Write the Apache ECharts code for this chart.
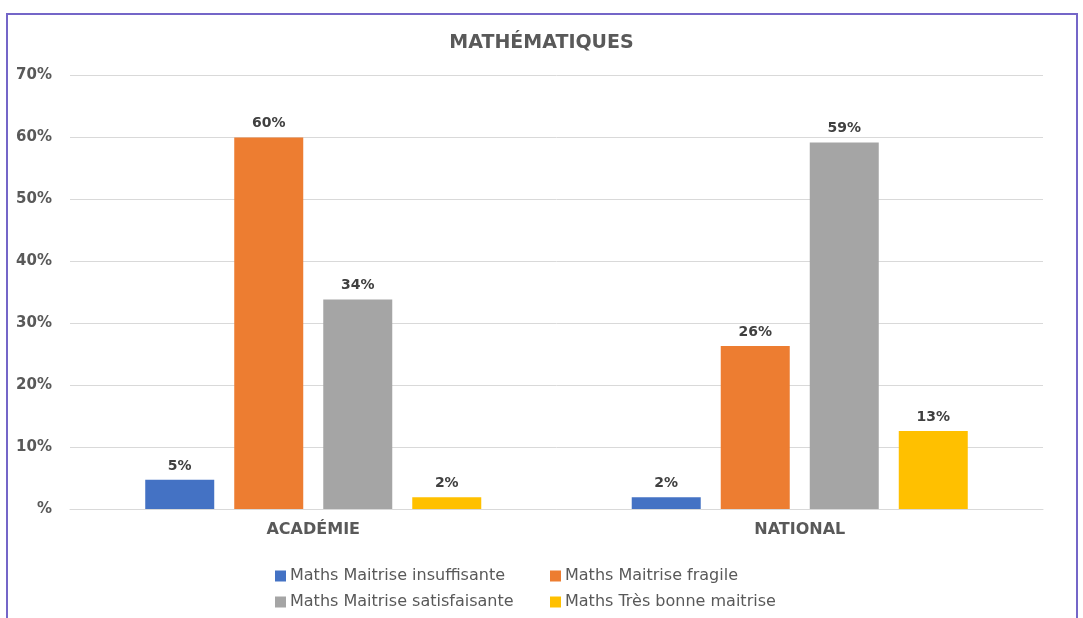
<!DOCTYPE html>
<html>
<head>
<meta charset="utf-8">
<script src="https://cdn.jsdelivr.net/npm/echarts@6/dist/echarts.min.js"></script>
<style>html,body{margin:0;padding:0;background:#fff;}#c{width:1083px;height:618px;}</style>
</head>
<body>
<div id="c"></div>
<script>
const categories = ['ACADÉMIE', 'NATIONAL'];
const seriesNames = ['Maths Maitrise insuffisante', 'Maths Maitrise fragile', 'Maths Maitrise satisfaisante', 'Maths Très bonne maitrise'];
const insuffisante = [4.7, 1.9];
const fragile = [59.9, 26.3];
const satisfaisante = [33.8, 59.1];
const tresBonne = [1.9, 12.6];
const yTicks = [0, 10, 20, 30, 40, 50, 60, 70];
const colors = ['#4472C4', '#ED7D31', '#A5A5A5', '#FFC000'];

const values = [insuffisante, fragile, satisfaisante, tresBonne];
const font = '"DejaVu Sans", Lato, sans-serif';
const textColor = '#595959';

const chart = echarts.init(document.getElementById('c'));
chart.setOption({
  animation: false,
  graphic: [{
    type: 'rect',
    shape: { x: 7, y: 14, width: 1070, height: 640 },
    style: { fill: 'none', stroke: '#7466C8', lineWidth: 2 }
  }],
  title: {
    text: 'MATHÉMATIQUES',
    left: 'center',
    top: 29,
    textStyle: { fontFamily: font, fontSize: 19, fontWeight: 'bold', color: textColor }
  },
  legend: [
    {
      data: [seriesNames[0], seriesNames[2]],
      orient: 'vertical',
      left: 270,
      top: 563,
      itemWidth: 11, itemHeight: 11, itemGap: 10,
      icon: 'rect',
      textStyle: { fontFamily: font, fontSize: 16, color: textColor, padding: [0, 0, 0, -1] }
    },
    {
      data: [seriesNames[1], seriesNames[3]],
      orient: 'vertical',
      left: 545,
      top: 563,
      itemWidth: 11, itemHeight: 11, itemGap: 10,
      icon: 'rect',
      textStyle: { fontFamily: font, fontSize: 16, color: textColor, padding: [0, 0, 0, -1] }
    }
  ],
  grid: { left: 70, right: 40, top: 75, bottom: 109, containLabel: false },
  xAxis: {
    type: 'category',
    data: categories,
    axisTick: { show: false },
    axisLine: { lineStyle: { color: '#D9D9D9', width: 1 } },
    axisLabel: { fontFamily: font, fontSize: 16, fontWeight: 'bold', color: textColor, margin: 13 }
  },
  yAxis: {
    type: 'value',
    min: 0, max: 70, interval: 10,
    axisLine: { show: false },
    axisTick: { show: false },
    splitLine: { lineStyle: { color: '#D9D9D9', width: 1 } },
    axisLabel: {
      fontFamily: font, fontSize: 15, fontWeight: 'bold', color: textColor, margin: 18,
      formatter: v => (v === 0 ? '%' : v + '%')
    }
  },
  series: values.map((vals, i) => ({
    name: seriesNames[i],
    type: 'bar',
    data: vals,
    barWidth: 69,
    barGap: '29%',
    itemStyle: { color: colors[i] },
    label: {
      show: true,
      position: 'top',
      distance: 7,
      fontFamily: font, fontSize: 14, fontWeight: 'bold', color: '#404040',
      formatter: p => Math.round(p.value) + '%'
    }
  }))
});
</script>
</body>
</html>
